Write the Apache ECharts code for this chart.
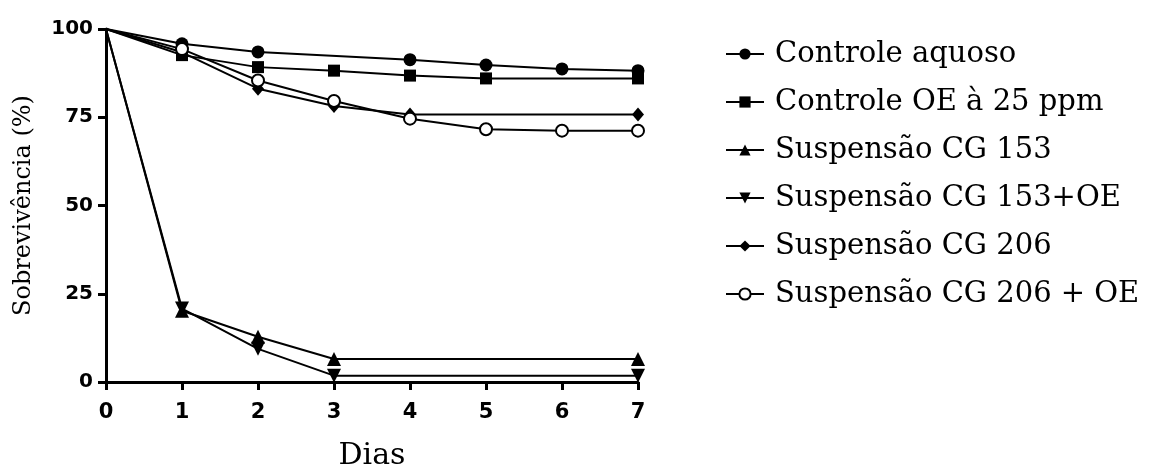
<!DOCTYPE html>
<html>
<head>
<meta charset="utf-8">
<script src="https://cdn.jsdelivr.net/npm/echarts@6/dist/echarts.min.js"></script>
<style>html,body{margin:0;padding:0;background:#fff;}#c{width:1154px;height:466px;}</style>
</head>
<body>
<div id="c"></div>
<script>
const days = [0, 1, 2, 3, 4, 5, 6, 7];
const yTicks = [0, 25, 50, 75, 100];
const seriesNames = ['Controle aquoso', 'Controle OE à 25 ppm', 'Suspensão CG 153', 'Suspensão CG 153+OE', 'Suspensão CG 206', 'Suspensão CG 206 + OE'];
const controleAquoso = [100, 95.8, 93.5, null, 91.3, 89.8, 88.7, 88.2];
const controleOE = [100, 92.6, 89.2, 88.2, 86.8, 86.0, null, 86.0];
const cg153 = [100, 20.2, 12.8, 6.5, null, null, null, 6.5];
const cg153OE = [100, 20.8, 9.4, 1.8, null, null, null, 1.8];
const cg206 = [100, 93.4, 83.1, 78.2, 75.8, null, null, 75.8];
const cg206OE = [100, 94.3, 85.4, 79.6, 74.6, 71.6, 71.2, 71.2];

const values = [controleAquoso, controleOE, cg153, cg153OE, cg206, cg206OE];
const symbols = ['circle', 'rect', 'triangle', 'triangle', 'diamond', 'circle'];
const rotations = [0, 0, 0, 180, 0, 0];
const sizes = [13, 12, 14, 14, [12, 14], 12];

const series = values.map((arr, k) => ({
  name: seriesNames[k],
  type: 'line',
  symbol: symbols[k],
  symbolRotate: rotations[k],
  symbolSize: sizes[k],
  connectNulls: true,
  showAllSymbol: true,
  color: '#000',
  lineStyle: { color: '#000', width: 2, type: 'solid' },
  itemStyle: k === 5
    ? { color: '#fff', borderColor: '#000', borderWidth: 2 }
    : { color: '#000' },
  emphasis: { disabled: true },
  data: days.map((d, i) => arr[i] === null ? [d, null] : (i === 0 ? { value: [d, arr[i]], symbol: 'none' } : [d, arr[i]]))
}));

const chart = echarts.init(document.getElementById('c'), null, { renderer: 'canvas' });
chart.setOption({
  animation: false,
  backgroundColor: '#fff',
  grid: { left: 106, right: 516, top: 29, bottom: 84, containLabel: false, outerBoundsMode: 'none' },
  xAxis: {
    type: 'value', min: 0, max: 7, interval: 1,
    name: 'Dias', nameLocation: 'middle', nameGap: 59,
    nameTextStyle: { fontFamily: 'DejaVu Serif', fontSize: 30, color: '#000' },
    axisLine: { lineStyle: { color: '#000', width: 3 } },
    axisTick: { show: true, length: 8, lineStyle: { color: '#000', width: 3 } },
    axisLabel: { fontFamily: 'DejaVu Sans', fontWeight: 'bold', fontSize: 21, color: '#000', margin: 20 },
    splitLine: { show: false }
  },
  yAxis: {
    type: 'value', min: yTicks[0], max: yTicks[yTicks.length - 1], interval: 25,
    name: 'Sobrevivência (%)', nameLocation: 'middle', nameGap: 70,
    nameTextStyle: { fontFamily: 'DejaVu Serif', fontSize: 24, color: '#000' },
    axisLine: { show: true, lineStyle: { color: '#000', width: 3 } },
    axisTick: { show: true, length: 8, lineStyle: { color: '#000', width: 3 } },
    axisLabel: { fontFamily: 'DejaVu Sans', fontWeight: 'bold', fontSize: 20, color: '#000', margin: 13 },
    splitLine: { show: false }
  },
  legend: {
    orient: 'vertical', left: 720, top: 34,
    itemWidth: 38, itemHeight: 14, itemGap: 18,
    data: seriesNames,
    textStyle: { fontFamily: 'DejaVu Serif', fontSize: 29, lineHeight: 30, color: '#000', padding: [0, 0, 0, 6] },
    selectedMode: false
  },
  series: series
});
</script>
</body>
</html>
